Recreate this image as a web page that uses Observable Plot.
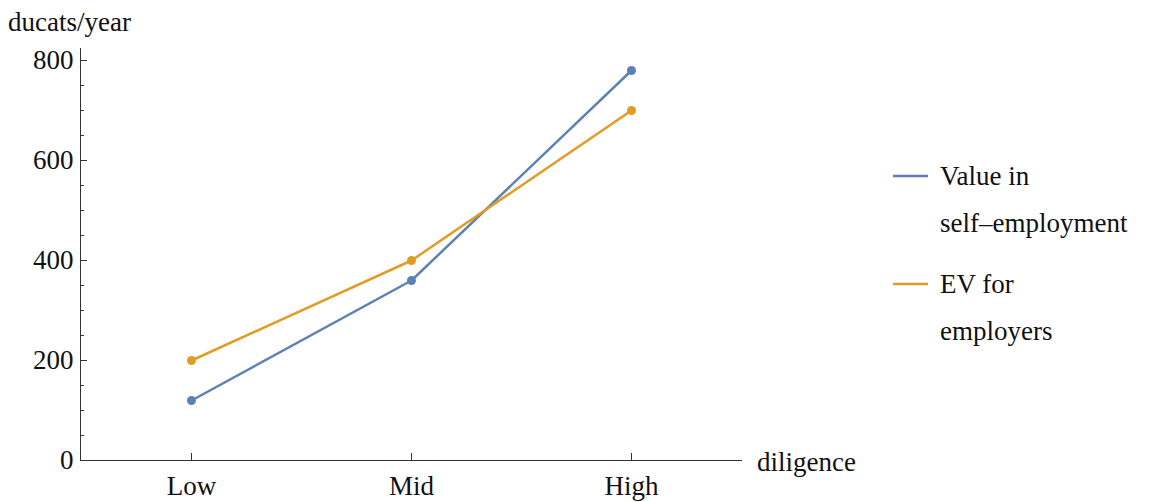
<!DOCTYPE html>
<html><head><meta charset="utf-8">
<script src="https://cdn.jsdelivr.net/npm/d3@7"></script>
<script src="https://cdn.jsdelivr.net/npm/@observablehq/plot@0.6"></script>
<style>
body{margin:0;background:#fff}
svg{font-family:"Liberation Serif",serif}
</style>
</head><body><div id="chart"></div>
<script>
const categories = ["Low", "Mid", "High"];
const selfEmployment = [120, 360, 780];
const evEmployers = [200, 400, 700];
const seriesNames = ["Value in self–employment", "EV for employers"];
const legendLines = [["Value in", "self–employment"], ["EV for", "employers"]];
const seriesColors = ["#5e81b5", "#e19c24"];
const yMajorTicks = [0, 200, 400, 600, 800];
const yMinorTicks = [50, 100, 150, 250, 300, 350, 450, 500, 550, 650, 700, 750];
const yLabel = "ducats/year";
const xLabel = "diligence";

const data = [];
categories.forEach((c, i) => {
  data.push({cat: c, value: selfEmployment[i], series: seriesNames[0]});
});
categories.forEach((c, i) => {
  data.push({cat: c, value: evEmployers[i], series: seriesNames[1]});
});

const W = 1162, H = 502;
const axisColor = "#333";
const plot = Plot.plot({
  width: W, height: H,
  marginLeft: 80, marginRight: 420, marginTop: 48, marginBottom: 42,
  style: {fontSize: "27px", fontFamily: "Liberation Serif, serif", color: "#111", background: "#fff"},
  x: {type: "point", domain: categories, padding: 0.5},
  y: {domain: [0, 824]},
  color: {domain: seriesNames, range: seriesColors},
  marks: [
    Plot.frame({anchor: "left", stroke: axisColor}),
    Plot.ruleY([0], {stroke: axisColor}),
    Plot.axisY({ticks: yMajorTicks, tickSize: -7, text: null, stroke: axisColor, label: null}),
    Plot.axisY({ticks: yMinorTicks, tickSize: -4, text: null, stroke: axisColor, label: null}),
    Plot.axisY({ticks: yMajorTicks, tickSize: 0, tickPadding: 7, label: null, fill: "#111"}),
    Plot.axisX({tickSize: -7, text: null, stroke: axisColor, label: null}),
    Plot.axisX({tickSize: 0, tickPadding: 15, label: null, fill: "#111"}),
    Plot.line(data, {x: "cat", y: "value", stroke: "series", strokeWidth: 2.5}),
    Plot.dot(data, {x: "cat", y: "value", fill: "series", r: 4.5})
  ]
});
document.getElementById("chart").appendChild(plot);

const svg = d3.select(plot);
const font = "Liberation Serif, serif";
function addText(sel, x, y, t) {
  return sel.append("text").attr("x", x).attr("y", y).attr("font-size", 27)
    .attr("font-family", font).attr("fill", "#111").attr("text-anchor", "start").text(t);
}
addText(svg, 8, 31, yLabel);
addText(svg, 757, 471, xLabel);

const lg = svg.append("g");
legendLines.forEach((lines, i) => {
  const y0 = 176 + i * 108;
  lg.append("line").attr("x1", 893).attr("x2", 928).attr("y1", y0).attr("y2", y0)
    .attr("stroke", seriesColors[i]).attr("stroke-width", 2.5);
  lines.forEach((t, j) => {
    addText(lg, 940, y0 + 9 + j * 47, t);
  });
});
</script>
</body></html>
